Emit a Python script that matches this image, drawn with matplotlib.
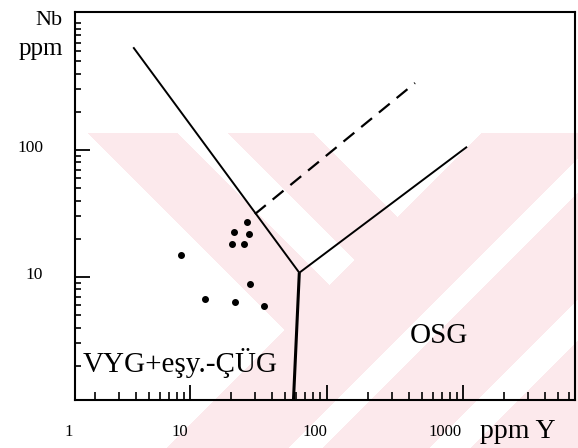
import numpy as np
import matplotlib
matplotlib.use("Agg")
import matplotlib.pyplot as plt
from matplotlib.ticker import FixedLocator, LogLocator, NullFormatter
from matplotlib.transforms import blended_transform_factory, offset_copy

# Sample analyses (ppm)
y_ppm = [26.3, 20.9, 27.1, 20.3, 25.0, 8.6, 27.5, 12.8, 21.4, 34.8]
nb_ppm = [27.1, 22.5, 21.9, 18.3, 18.3, 14.9, 8.8, 6.7, 6.4, 5.9]

# Field boundaries (Y, Nb)
wpg_line_y = [3.84, 63.2]
wpg_line_nb = [644, 10.8]
org_line_y = [63.2, 1070]
org_line_nb = [10.8, 106]
vag_line_y = [63.2, 57.1]
vag_line_nb = [10.8, 1.0]
anom_line_y = [29.9, 445]
anom_line_nb = [31.3, 337]

x_tick_values = [1, 10, 100, 1000]
x_tick_text = ["1", "10", "100", "1000"]
y_tick_values = [10, 100]
y_tick_text = ["10", "100"]

W, H = 578, 448
fig = plt.figure(figsize=(W / 100, H / 100), dpi=100)
fig.patch.set_facecolor("white")

# pale striped "V" watermark behind the plot
yy, xx = np.mgrid[0:H, 0:W] + 0.5
s = xx + yy
d = xx - yy
right_arm = (s >= 615) & ~((s >= 737) & (s <= 770)) & ~((s >= 878) & (s <= 918))
left_arm = (s < 615) & (((d >= -45) & (d <= 44)) | ((d >= 95) & (d <= 180)))
mask = (yy >= 133) & (right_arm | left_arm)
wm = np.ones((H, W, 3))
wm[mask] = np.array([252, 233, 236]) / 255.0
fig.figimage(wm, 0, 0, origin="upper", zorder=-10)

ax = fig.add_axes([75 / W, (H - 400) / H, 500 / W, 388 / H])
ax.set_zorder(5)
ax.set_facecolor("none")
ax.set_xscale("log")
ax.set_yscale("log")
ax.set_xlim(1.437, 6614)
ax.set_ylim(1.075, 1221)

for sp in ax.spines.values():
    sp.set_linewidth(1.5)
    sp.set_color("black")

ax.xaxis.set_major_locator(FixedLocator([10, 100, 1000]))
ax.xaxis.set_minor_locator(LogLocator(base=10, subs=np.arange(2, 10)))
ax.yaxis.set_major_locator(FixedLocator(y_tick_values))
ax.yaxis.set_minor_locator(LogLocator(base=10, subs=np.arange(1, 10)))
ax.xaxis.set_minor_formatter(NullFormatter())
ax.yaxis.set_minor_formatter(NullFormatter())
ax.tick_params(which="both", direction="in", top=False, right=False,
               labelbottom=False, labelleft=False, color="black")
ax.tick_params(which="major", length=11, width=1.3)
ax.tick_params(axis="x", which="minor", length=5.5, width=1.2)
ax.tick_params(axis="y", which="minor", length=4, width=1.2)

# boundaries
ax.plot(wpg_line_y, wpg_line_nb, color="black", lw=1.4, solid_capstyle="butt")
ax.plot(org_line_y, org_line_nb, color="black", lw=1.4, solid_capstyle="butt")
ax.plot(vag_line_y, vag_line_nb, color="black", lw=2.2, solid_capstyle="butt")
ax.plot(anom_line_y, anom_line_nb, color="black", lw=1.6, dashes=(6.3, 4.0))

# samples
ax.plot(y_ppm, nb_ppm, linestyle="none", marker="o", markersize=4.0,
        color="black")

serif = ["Liberation Serif", "DejaVu Serif"]

# tick labels
xt = blended_transform_factory(ax.transData, fig.transFigure)
x_nudge_px = [15, -10, -12, -18]
for v, t, n in zip(x_tick_values, x_tick_text, x_nudge_px):
    tr = offset_copy(xt, fig=fig, x=n, y=0, units="dots")
    ax.text(v, 1 - 432 / H, t, transform=tr, ha="center", va="center",
            fontsize=12, family=serif, clip_on=False)

yt = blended_transform_factory(fig.transFigure, ax.transData)
for v, t in zip(y_tick_values, y_tick_text):
    tr = offset_copy(yt, fig=fig, x=0, y=2, units="dots")
    ax.text(43 / W, v, t, transform=tr, ha="right", va="center",
            fontsize=12.5, family=serif, clip_on=False)

# axis titles
fig.text(63 / W, 1 - 25 / H, "Nb", ha="right", va="baseline",
         fontsize=16, family=serif)
fig.text(63 / W, 1 - 55 / H, "ppm", ha="right", va="baseline",
         fontsize=18, family=serif)
fig.text(480 / W, 1 - 438 / H, "ppm Y", ha="left", va="baseline",
         fontsize=20, family=serif)

# field names
ax.text(0.016, 0.072, "VYG+eşy.-ÇÜG", transform=ax.transAxes, ha="left",
        va="baseline", fontsize=21, family=serif)
ax.text(0.67, 0.147, "OSG", transform=ax.transAxes, ha="left",
        va="baseline", fontsize=21, family=serif)

fig.savefig("out.png", dpi=100)
